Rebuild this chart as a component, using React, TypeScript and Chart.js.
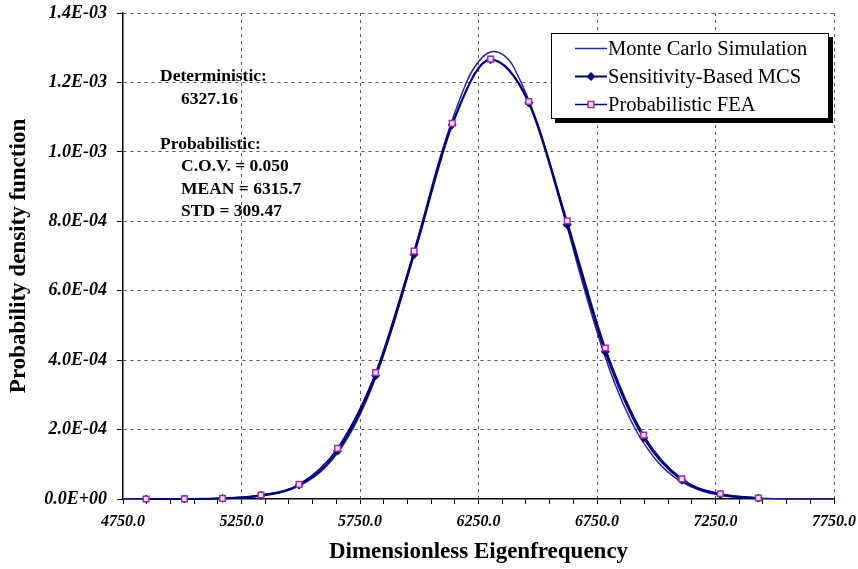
import React, { useEffect, useRef } from "react";
import { Chart, registerables } from "chart.js";

Chart.register(...registerables);

const W = 858;
const H = 569;
const SERIF = "'Liberation Serif', 'Times New Roman', serif";

// ---- data ----
const markerX = [4847, 5009, 5170, 5332, 5493, 5655, 5816, 5978, 6139, 6301, 6462, 6624, 6785, 6947, 7108, 7270, 7431];
const sensitivityMCS = [0, 2e-7, 2e-6, 1.0e-5, 4.0e-5, 1.38e-4, 3.55e-4, 7.04e-4, 1.078e-3, 1.265e-3, 1.141e-3, 7.9e-4, 4.24e-4, 1.76e-4, 5.4e-5, 1.3e-5, 2.5e-6];
const probabilisticFEA = [0, 2e-7, 2e-6, 1.15e-5, 4.2e-5, 1.46e-4, 3.64e-4, 7.14e-4, 1.082e-3, 1.267e-3, 1.145e-3, 8.01e-4, 4.35e-4, 1.84e-4, 5.8e-5, 1.5e-5, 3e-6];

const mcsX = [4750, 4900, 5000, 5100, 5200, 5300, 5400, 5500, 5600, 5700, 5800, 5900, 6000, 6100, 6200, 6250, 6300, 6350, 6400, 6500, 6600, 6700, 6800, 6900, 7000, 7100, 7200, 7300, 7400, 7500, 7600, 7750];
const mcsY = [0, 0, 1.5e-7, 5.8e-7, 1.9e-6, 5.9e-6, 1.62e-5, 4.0e-5, 8.89e-5, 1.782e-4, 3.216e-4, 5.23e-4, 7.661e-4, 1.011e-3, 1.2021e-3, 1.2597e-3, 1.2874e-3, 1.2812e-3, 1.2422e-3, 1.0796e-3, 8.453e-4, 5.963e-4, 3.789e-4, 2.168e-4, 1.119e-4, 5.2e-5, 2.17e-5, 8.2e-6, 2.8e-6, 8.5e-7, 2.3e-7, 0];

const xMajorTicks = [4750, 5250, 5750, 6250, 6750, 7250, 7750];
const xTickLabels = ["4750.0", "5250.0", "5750.0", "6250.0", "6750.0", "7250.0", "7750.0"];
const xMinorStep = 100;
const yTickValues = [0, 2e-4, 4e-4, 6e-4, 8e-4, 1.0e-3, 1.2e-3, 1.4e-3];
const yTickLabels = ["0.0E+00", "2.0E-04", "4.0E-04", "6.0E-04", "8.0E-04", "1.0E-03", "1.2E-03", "1.4E-03"];

const seriesNames = ["Monte Carlo Simulation", "Sensitivity-Based MCS", "Probabilistic FEA"];
const annotationLines = ["Deterministic:", "6327.16", "Probabilistic:", "C.O.V. = 0.050", "MEAN = 6315.7", "STD = 309.47"];

const NAVY = "#000080";
const MCS_BLUE = "#2323a8";
const FEA_EDGE = "#993399";
const FEA_FILL = "#ffd6ff";

const isMajorX = (v: number) => xMajorTicks.some((m) => Math.abs(m - v) < 1e-6);

const legendPlugin = {
  id: "customLegend",
  afterDraw(chart: any) {
    const ctx = chart.ctx;
    ctx.save();
    const bx = 551, by = 33, bw = 278, bh = 86;
    ctx.fillStyle = "#000";
    ctx.fillRect(bx + 4, by + 4, bw, bh);
    ctx.fillStyle = "#fff";
    ctx.fillRect(bx, by, bw, bh);
    ctx.strokeStyle = "#000";
    ctx.lineWidth = 1;
    ctx.strokeRect(bx + 0.5, by + 0.5, bw - 1, bh - 1);
    const rows = [48.5, 76.5, 104.5];
    const x0 = 575, x1 = 607;
    ctx.font = `20.5px ${SERIF}`;
    ctx.textBaseline = "middle";
    ctx.textAlign = "left";
    rows.forEach((y, i) => {
      ctx.beginPath();
      ctx.moveTo(x0, y);
      ctx.lineTo(x1, y);
      ctx.strokeStyle = i === 0 ? MCS_BLUE : NAVY;
      ctx.lineWidth = i === 1 ? 2 : 1.5;
      ctx.stroke();
      const cx = (x0 + x1) / 2;
      if (i === 1) {
        ctx.fillStyle = NAVY;
        ctx.beginPath();
        ctx.moveTo(cx, y - 4.5);
        ctx.lineTo(cx + 4.5, y);
        ctx.lineTo(cx, y + 4.5);
        ctx.lineTo(cx - 4.5, y);
        ctx.closePath();
        ctx.fill();
      } else if (i === 2) {
        ctx.fillStyle = FEA_FILL;
        ctx.fillRect(cx - 3, y - 3, 6, 6);
        ctx.strokeStyle = FEA_EDGE;
        ctx.lineWidth = 1.5;
        ctx.strokeRect(cx - 3, y - 3, 6, 6);
      }
      ctx.fillStyle = "#000";
      ctx.fillText(seriesNames[i], 608, y + 1);
    });
    ctx.restore();
  },
};

const annotationPlugin = {
  id: "annotations",
  afterDraw(chart: any) {
    const ctx = chart.ctx;
    ctx.save();
    ctx.font = `bold 17.5px ${SERIF}`;
    ctx.fillStyle = "#000";
    ctx.textBaseline = "alphabetic";
    ctx.textAlign = "left";
    const pos = [
      [160, 80.5],
      [181, 103.5],
      [160, 148.5],
      [181, 171],
      [181, 193.5],
      [181, 216],
    ];
    annotationLines.forEach((t, i) => ctx.fillText(t, pos[i][0], pos[i][1]));
    ctx.restore();
  },
};

export default function App() {
  const ref = useRef<HTMLCanvasElement | null>(null);

  useEffect(() => {
    if (!ref.current) return;
    const chart = new Chart(ref.current, {
      type: "line",
      data: {
        datasets: [
          {
            label: seriesNames[2],
            data: markerX.map((x, i) => ({ x, y: probabilisticFEA[i] })),
            borderColor: NAVY,
            borderWidth: 1.5,
            pointStyle: "rect",
            pointRadius: 4,
            pointBorderWidth: 1.5,
            pointBorderColor: FEA_EDGE,
            pointBackgroundColor: FEA_FILL,
            cubicInterpolationMode: "monotone",
            order: 0,
            clip: false,
          },
          {
            label: seriesNames[1],
            data: markerX.map((x, i) => ({ x, y: sensitivityMCS[i] })),
            borderColor: NAVY,
            borderWidth: 2,
            pointStyle: "rectRot",
            pointRadius: 4,
            pointBorderWidth: 1,
            pointBorderColor: NAVY,
            pointBackgroundColor: NAVY,
            cubicInterpolationMode: "monotone",
            order: 1,
            clip: false,
          },
          {
            label: seriesNames[0],
            data: mcsX.map((x, i) => ({ x, y: mcsY[i] })),
            borderColor: MCS_BLUE,
            borderWidth: 1.5,
            pointRadius: 0,
            tension: 0.4,
            order: 2,
            clip: false,
          },
        ],
      },
      options: {
        animation: false,
        responsive: false,
        maintainAspectRatio: false,
        layout: { padding: { left: 0, top: 13, right: 24, bottom: 0 } },
        plugins: {
          legend: { display: false },
          tooltip: { enabled: false },
        },
        scales: {
          x: {
            type: "linear",
            min: 4750,
            max: 7750,
            afterBuildTicks: (s: any) => {
              const t: any[] = [];
              for (let v = xMajorTicks[0]; v <= xMajorTicks[xMajorTicks.length - 1] + 1e-6; v += xMinorStep) t.push({ value: v });
              s.ticks = t;
            },
            afterFit: (s: any) => {
              s.height = 70;
              s.paddingLeft = 0;
              s.paddingRight = 0;
            },
            ticks: {
              autoSkip: false,
              maxRotation: 0,
              minRotation: 0,
              color: "#000",
              padding: 8,
              font: { family: SERIF, size: 16, style: "italic", weight: "bold" },
              callback: (v: any) => {
                const i = xMajorTicks.findIndex((m) => Math.abs(m - Number(v)) < 1e-6);
                return i >= 0 ? xTickLabels[i] : "";
              },
            },
            grid: {
              color: (c: any) => (c.tick && isMajorX(c.tick.value) && c.tick.value !== xMajorTicks[0] ? "#555" : "rgba(0,0,0,0)"),
              tickColor: "#000",
              tickLength: 5,
              lineWidth: 1,
            },
            border: { display: true, color: "#000", width: 1.5, dash: [3, 4] },
            title: {
              display: true,
              text: "Dimensionless Eigenfrequency",
              color: "#000",
              font: { family: SERIF, size: 23, weight: "bold" },
              padding: { top: 0, bottom: 3 },
            },
          },
          y: {
            type: "linear",
            min: 0,
            max: 0.0014,
            afterBuildTicks: (s: any) => {
              s.ticks = yTickValues.map((v) => ({ value: v }));
            },
            afterFit: (s: any) => {
              s.width = 123;
              s.paddingTop = 0;
              s.paddingBottom = 0;
            },
            ticks: {
              color: "#000",
              padding: 10,
              font: { family: SERIF, size: 18, style: "italic", weight: "bold" },
              callback: (v: any) => {
                const i = yTickValues.findIndex((m) => Math.abs(m - Number(v)) < 1e-9);
                return i >= 0 ? yTickLabels[i] : "";
              },
            },
            grid: {
              color: (c: any) => (c.tick && c.tick.value > 1e-9 ? "#555" : "rgba(0,0,0,0)"),
              tickColor: "#000",
              tickLength: 6,
              lineWidth: 1,
            },
            border: { display: true, color: "#000", width: 1.5, dash: [3, 4] },
            title: {
              display: true,
              text: "Probability density function",
              color: "#000",
              font: { family: SERIF, size: 23, weight: "bold" },
              padding: { top: 5, bottom: 0 },
            },
          },
        },
      } as any,
      plugins: [legendPlugin, annotationPlugin],
    });
    return () => chart.destroy();
  }, []);

  return (
    <div style={{ position: "absolute", left: 0, top: 0, width: W, height: H, background: "#fff" }}>
      <canvas ref={ref} width={W} height={H} style={{ width: W, height: H, display: "block" }} />
    </div>
  );
}
